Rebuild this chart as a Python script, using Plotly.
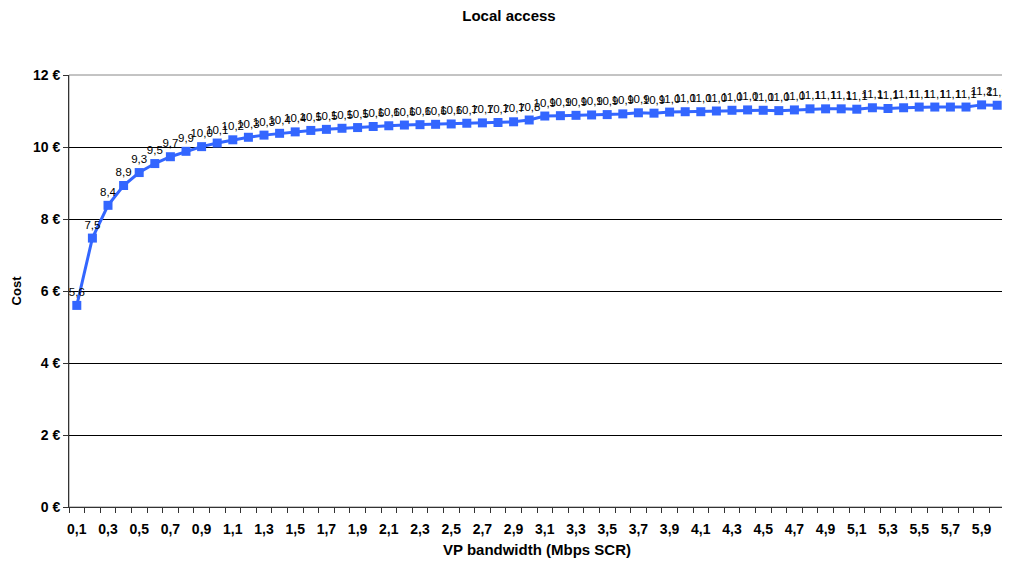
import plotly.graph_objects as go

bandwidth = [f"{i/10:.1f}".replace(".", ",") for i in range(1, 61)]
cost = [
    5.60, 7.47, 8.38, 8.93, 9.29, 9.54, 9.73, 9.88, 10.01, 10.11,
    10.20, 10.27, 10.33, 10.38, 10.42, 10.46, 10.49, 10.52, 10.54, 10.57,
    10.59, 10.61, 10.62, 10.63, 10.64, 10.66, 10.67, 10.68, 10.70, 10.75,
    10.86, 10.87, 10.88, 10.89, 10.90, 10.92, 10.95, 10.94, 10.97, 10.98,
    10.98, 11.00, 11.02, 11.03, 11.02, 11.01, 11.03, 11.06, 11.06, 11.06,
    11.05, 11.09, 11.07, 11.09, 11.11, 11.11, 11.11, 11.11, 11.17, 11.16,
]
y_ticks = [0, 2, 4, 6, 8, 10, 12]

idx = list(range(len(cost)))
labels = [f"{v:.1f}".replace(".", ",") for v in cost]

FONT = "Liberation Sans, Arial, sans-serif"

fig = go.Figure()
fig.add_trace(go.Scatter(
    x=idx, y=cost, mode="lines+markers+text",
    line=dict(color="#3366FF", width=3),
    marker=dict(symbol="square", size=9, color="#3366FF"),
    text=labels, textposition="top center",
    textfont=dict(family=FONT, size=11.5, color="#000000"),
    cliponaxis=False, showlegend=False,
))

fig.update_layout(
    width=1002, height=559,
    margin=dict(l=61, r=5, t=67, b=60),
    paper_bgcolor="white", plot_bgcolor="white",
    title=dict(text="<b>Local access</b>", x=0.5, xanchor="center", y=0.986, yanchor="middle",
               font=dict(family=FONT, size=15, color="#000")),
    font=dict(family=FONT, color="#000"),
    xaxis=dict(
        range=[-0.5, len(cost) - 0.5], tickmode="array",
        tickvals=idx[::2], ticktext=bandwidth[::2],
        ticks="outside", ticklen=9, tickcolor="rgba(0,0,0,0)",
        showgrid=False, zeroline=False,
        showline=True, linecolor="#333333", linewidth=1,
        tickfont=dict(family=FONT, size=14, color="#000", weight="bold"),
        minor=dict(tickmode="array", tickvals=[i - 0.5 for i in range(len(cost) + 1)],
                   ticks="outside", ticklen=5, tickcolor="#333333", showgrid=False),
        title=dict(text="<b>VP bandwidth (Mbps SCR)</b>", font=dict(family=FONT, size=15), standoff=8),
    ),
    yaxis=dict(
        range=[0, 12], tickmode="array", tickvals=y_ticks,
        ticktext=[f"{v} €" for v in y_ticks],
        ticks="outside", ticklen=5, tickcolor="#333333",
        showgrid=True, gridcolor="#000000", gridwidth=1, zeroline=False,
        showline=True, linecolor="#333333", linewidth=1,
        tickfont=dict(family=FONT, size=14, color="#000", weight="bold"),
        title=dict(text="<b>Cost</b>", font=dict(family=FONT, size=13), standoff=8),
    ),
    shapes=[dict(type="rect", xref="paper", yref="paper", x0=0, y0=0, x1=1, y1=1,
                 line=dict(color="#888888", width=1), layer="below")],
)

fig.write_html("out.html")
